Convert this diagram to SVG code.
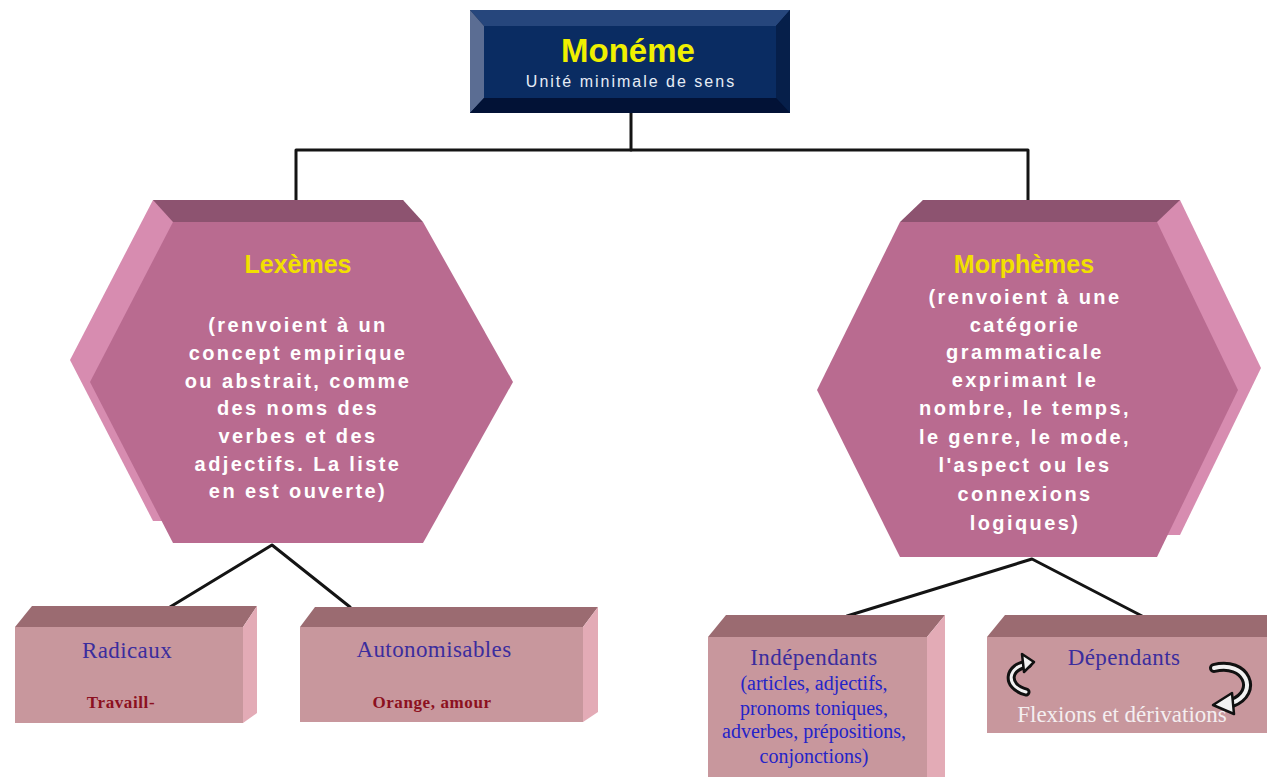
<svg xmlns="http://www.w3.org/2000/svg" width="1267" height="777" viewBox="0 0 1267 777">
<style>
.conn{stroke:#141414;stroke-width:3;fill:none;stroke-linecap:round;stroke-linejoin:round}
.hexFront{fill:#b96b90}
.hexTop{fill:#8d5370}
.hexSide{fill:#d78cb0}
.boxFront{fill:#c8979d}
.boxTop{fill:#9b6b71}
.boxSide{fill:#e3abb6}
.sans{font-family:'Liberation Sans',Arial,sans-serif;text-anchor:middle}
.serif{font-family:'Liberation Serif','Times New Roman',serif;text-anchor:middle}
.hexTitle{font-weight:bold;font-size:25px;fill:#f2e000}
.hexBody{font-weight:bold;font-size:20px;fill:#ffffff;letter-spacing:2.4px}
.boxTitle{font-size:23px;fill:#3b2d9e;letter-spacing:0.4px}
.boxEx{font-weight:bold;font-size:17px;fill:#8c1020;letter-spacing:0.6px}
.indep{font-size:20px;fill:#2424c8}
.curl{fill:none;stroke-linecap:round}
</style>

<g id="connectors">
  <polyline class="conn" points="631,113 631,150"/>
  <polyline class="conn" points="296,200 296,150 1028,150 1028,200"/>
  <polyline class="conn" points="170,607 272,545 350,607"/>
  <polyline class="conn" points="847,616 1032,559 1142,616"/>
</g>

<g id="moneme">
  <rect x="470" y="10" width="320" height="103" fill="#03183f"/>
  <polygon points="470,10 790,10 776,26 484,26" fill="#26467c"/>
  <polygon points="470,10 484,26 484,98 470,113" fill="#5b6d93"/>
  <polygon points="790,10 790,113 776,98 776,26" fill="#061f4a"/>
  <polygon points="470,113 790,113 776,98 484,98" fill="#021236"/>
  <rect x="484" y="26" width="292" height="72" fill="#0a2c62"/>
  <text class="sans" x="628" y="62" font-size="33" font-weight="bold" fill="#f0f000">Monéme</text>
  <text class="sans" x="631" y="87" font-size="16" fill="#e6ecf6" letter-spacing="2">Unité minimale de sens</text>
</g>

<g id="lexemes">
  <polygon class="hexSide" points="153,200 403,200 493,360 403,521 153,521 70,360"/>
  <polygon class="hexTop" points="153,200 403,200 423,222 173,222"/>
  <polygon class="hexFront" points="173,222 423,222 513,382 423,543 173,543 90,382"/>
  <text class="sans hexTitle" x="298" y="273">Lexèmes</text>
  <text class="sans hexBody" x="298" y="332">(renvoient à un</text>
  <text class="sans hexBody" x="298" y="360">concept empirique</text>
  <text class="sans hexBody" x="298" y="388">ou abstrait, comme</text>
  <text class="sans hexBody" x="298" y="415">des noms des</text>
  <text class="sans hexBody" x="298" y="443">verbes et des</text>
  <text class="sans hexBody" x="298" y="471">adjectifs. La liste</text>
  <text class="sans hexBody" x="298" y="498">en est ouverte)</text>
</g>

<g id="morphemes">
  <polygon class="hexSide" points="923,200 1180,200 1261,368 1180,535 923,535 840,368"/>
  <polygon class="hexTop" points="900,222 1157,222 1180,200 923,200"/>
  <polygon class="hexFront" points="900,222 1157,222 1238,390 1157,557 900,557 817,390"/>
  <text class="sans hexTitle" x="1024" y="273">Morphèmes</text>
  <text class="sans hexBody" x="1025" y="304">(renvoient à une</text>
  <text class="sans hexBody" x="1025" y="332">catégorie</text>
  <text class="sans hexBody" x="1025" y="359">grammaticale</text>
  <text class="sans hexBody" x="1025" y="387">exprimant le</text>
  <text class="sans hexBody" x="1025" y="415">nombre, le temps,</text>
  <text class="sans hexBody" x="1025" y="444">le genre, le mode,</text>
  <text class="sans hexBody" x="1025" y="472">l'aspect ou les</text>
  <text class="sans hexBody" x="1025" y="501">connexions</text>
  <text class="sans hexBody" x="1025" y="530">logiques)</text>
</g>

<g id="radicaux">
  <polygon class="boxTop" points="15,627 32,606 257,606 243,627"/>
  <polygon class="boxSide" points="243,627 257,606 257,713 243,723"/>
  <rect class="boxFront" x="15" y="627" width="228" height="96"/>
  <text class="serif boxTitle" x="127" y="658">Radicaux</text>
  <text class="serif boxEx" x="121" y="708">Travaill-</text>
</g>

<g id="autonomisables">
  <polygon class="boxTop" points="300,627 315,607 598,607 583,627"/>
  <polygon class="boxSide" points="583,627 598,607 598,712 583,722"/>
  <rect class="boxFront" x="300" y="627" width="283" height="95"/>
  <text class="serif boxTitle" x="434" y="657">Autonomisables</text>
  <text class="serif boxEx" x="432" y="708">Orange, amour</text>
</g>

<g id="independants">
  <polygon class="boxTop" points="708,637 726,615 945,615 927,637"/>
  <polygon class="boxSide" points="927,637 945,615 945,777 927,777"/>
  <rect class="boxFront" x="708" y="637" width="219" height="140"/>
  <text class="serif boxTitle" x="814" y="665" fill="#2a22b8">Indépendants</text>
  <text class="serif indep" x="814" y="690">(articles, adjectifs,</text>
  <text class="serif indep" x="814" y="715">pronoms toniques,</text>
  <text class="serif indep" x="814" y="738">adverbes, prépositions,</text>
  <text class="serif indep" x="814" y="763">conjonctions)</text>
</g>

<g id="dependants">
  <polygon class="boxTop" points="987,637 1005,615 1267,615 1267,637"/>
  <rect class="boxFront" x="987" y="637" width="280" height="96"/>
  <text class="serif boxTitle" x="1124" y="665" fill="#3326b4">Dépendants</text>
  <text class="serif" x="1122" y="722" font-size="23" fill="#f4eef0">Flexions et dérivations</text>
  <path class="curl" d="M1028,664 C1008,666 1004,686 1026,692" stroke="#111" stroke-width="9"/>
  <path class="curl" d="M1028,664 C1008,666 1004,686 1026,692" stroke="#f2f2f2" stroke-width="3"/>
  <polygon points="1034,662 1022,654 1024,672" fill="#f2f2f2" stroke="#111" stroke-width="2.5" stroke-linejoin="round"/>
  <path class="curl" d="M1214,668 C1246,660 1260,692 1232,703" stroke="#111" stroke-width="10"/>
  <path class="curl" d="M1214,668 C1246,660 1260,692 1232,703" stroke="#f2f2f2" stroke-width="4"/>
  <polygon points="1213,705 1232,693 1234,714" fill="#f2f2f2" stroke="#111" stroke-width="2.5" stroke-linejoin="round"/>
</g>
</svg>
